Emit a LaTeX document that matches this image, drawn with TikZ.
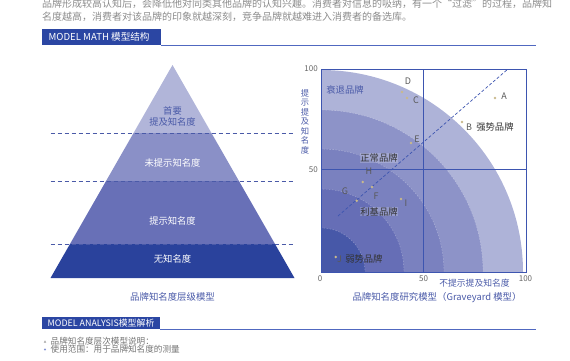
\documentclass[tikz,border=0pt]{standalone}
\usepackage{fontspec}
\setmainfont{Noto Sans CJK SC}
\usetikzlibrary{positioning}
\definecolor{navy}{HTML}{2B46A3}
\definecolor{rule}{HTML}{5068C0}
\definecolor{layerA}{HTML}{B1B5D9}
\definecolor{layerB}{HTML}{8A90C7}
\definecolor{layerC}{HTML}{6870B7}
\definecolor{layerD}{HTML}{2A429C}
\definecolor{ringA}{HTML}{AEB3D8}
\definecolor{ringB}{HTML}{8D93C8}
\definecolor{ringC}{HTML}{7A81BF}
\definecolor{ringD}{HTML}{666EB6}
\definecolor{ringE}{HTML}{4758A8}
\definecolor{axisblue}{HTML}{3D55B0}
\definecolor{capblue}{HTML}{4A5AA8}
\definecolor{dotbrown}{HTML}{C9B98C}
\definecolor{bodygray}{HTML}{8C8C8C}
\tikzset{
    para/.style={anchor=west, inner sep=0pt, text=bodygray, font=\fontsize{10}{12}\selectfont},
    hdtext/.style={anchor=west, inner sep=0pt, text=white, font=\fontsize{9.6}{11}\selectfont},
    caption/.style={inner sep=0pt, text=capblue, font=\fontsize{9.4}{11}\selectfont},
    tick/.style={inner sep=0pt, text=black!60, font=\fontsize{8}{9}\selectfont},
    brandlbl/.style={inner sep=0pt, text=black!80, font=\fontsize{9.3}{11}\selectfont},
    ptlbl/.style={inner sep=0pt, text=black!65, font=\fontsize{9}{10}\selectfont},
    ptdot/.style={circle, fill=dotbrown, inner sep=0pt, minimum size=2.8pt},
}
\begin{document}
\begin{tikzpicture}[x=1pt, y=-1pt]
    \useasboundingbox (0,0) rectangle (570,360);

    % Intro text
    \node[para] (intro1) at (42,3.5) {品牌形成较高认知后，会降低他对同类其他品牌的认知兴趣。消费者对信息的吸纳，有一个“过滤”的过程，品牌知};
    \node[para] (intro2) at (42,16.5) {名度越高，消费者对该品牌的印象就越深刻，竞争品牌就越难进入消费者的备选库。};

    % Header: model math
    \fill[navy] (42,29) rectangle (161,45);
    \draw[rule, line width=1pt] (161,45) -- (536,45);
    \node[hdtext] (hdmath) at (48.5,37) {MODEL MATH 模型结构};

    % Draw Pyramid
    \coordinate (apex) at (172.5,65);
    \coordinate (baseL) at (50.5,278);
    \coordinate (baseR) at (294.5,278);
    \begin{scope}
        \clip (apex) -- (baseL) -- (baseR) -- cycle;
        \fill[layerA] (40,60) rectangle (300,133);
        \fill[layerB] (40,133) rectangle (300,181);
        \fill[layerC] (40,181) rectangle (300,244);
        \fill[layerD] (40,244) rectangle (300,279);
    \end{scope}
    \foreach \y in {133,181,244}
        \draw[capblue, line width=0.7pt, dash pattern=on 4pt off 3pt] (50.5,\y) -- (294.5,\y);
    \node[inner sep=0pt, text=capblue, align=center, font=\fontsize{9.3}{11.5}\selectfont] (top) at (172.5,116.5) {首要\\提及知名度};
    \node[inner sep=0pt, text=white, font=\fontsize{9.3}{11}\selectfont] (unaided) at (172.5,163) {未提示知名度};
    \node[inner sep=0pt, text=white, font=\fontsize{9.3}{11}\selectfont] (aided) at (172.5,221) {提示知名度};
    \node[inner sep=0pt, text=white, font=\fontsize{9.3}{11}\selectfont] (none) at (172.5,259) {无知名度};
    \node[caption] (capPyr) at (172.5,297) {品牌知名度层级模型};

    % Draw Graveyard chart
    \coordinate (O) at (321,272);
    \begin{scope}
        \clip (321,69) rectangle (526,272);
        \fill[ringA] (O) circle[radius=202];
        \fill[ringB] (O) circle[radius=162];
        \fill[ringC] (O) circle[radius=123];
        \fill[ringD] (O) circle[radius=83];
        \fill[ringE] (O) circle[radius=44];
        \foreach \r in {162,123,83,44}
            \draw[white, opacity=0.35, line width=0.4pt, dash pattern=on 1.5pt off 1.5pt] (O) circle[radius=\r];
    \end{scope}
    \draw[axisblue, line width=0.9pt] (321,69) rectangle (526,272);
    \draw[axisblue, line width=0.9pt] (423.5,69) -- (423.5,272);
    \draw[axisblue, line width=0.9pt] (321,169.5) -- (526,169.5);
    \coordinate (diag0) at (338,216);
    \coordinate (diag1) at (508,69);
    \draw[axisblue, line width=0.7pt, dash pattern=on 3pt off 2pt] (diag0) -- (diag1);

    % Ticks and axis titles
    \node[tick, anchor=east] (y100) at (318,69) {100};
    \node[tick, anchor=east] (y50) at (318,169.5) {50};
    \node[tick] (x0) at (320,278.5) {0};
    \node[tick] (x50) at (423.5,278.5) {50};
    \node[tick] (x100) at (525.5,278.5) {100};
    \node[inner sep=0pt, text=capblue, align=center, font=\fontsize{8.3}{9.5}\selectfont] (ytitle) at (305,121.5) {提\\示\\提\\及\\知\\名\\度};
    \node[inner sep=0pt, text=capblue, font=\fontsize{8.8}{10}\selectfont] (xtitle) at (474.5,283.5) {不提示提及知名度};
    \node[caption] (capGrave) at (437,298) {品牌知名度研究模型（Graveyard 模型）};

    % Brand points
    \foreach \n/\x/\y in {A/495/98, B/462/122, C/407/98, D/402/92, E/411/143,
                          H/362.7/182, F/372/187, G/356.7/200.7, I/401/199, J/335.7/257}
        \node[ptdot] (pt\n) at (\x,\y) {};
    \node[ptlbl] (lblA) at (504,96) {A};
    \node[ptlbl] (lblB) at (469,127) {B};
    \node[ptlbl] (lblC) at (416,100) {C};
    \node[ptlbl] (lblD) at (408,81) {D};
    \node[ptlbl] (lblE) at (417,139) {E};
    \node[ptlbl] (lblH) at (369,171) {H};
    \node[ptlbl] (lblF) at (376,196) {F};
    \node[ptlbl] (lblG) at (345,191) {G};
    \node[ptlbl] (lblI) at (406,203) {I};
    \node[ptlbl] (lblJ) at (339.5,259) {J};

    % Brand zones
    \node[brandlbl, text=capblue] (declining) at (345,90) {衰退品牌};
    \node[brandlbl, right=4pt of lblB] (strong) {强势品牌};
    \node[brandlbl, fill=white, fill opacity=0.2, text opacity=1, inner sep=0.5pt] (normal) at (379,158) {正常品牌};
    \node[brandlbl, fill=white, fill opacity=0.2, text opacity=1, inner sep=0.5pt] (niche) at (379,211.5) {利基品牌};
    \node[brandlbl, right=3pt of lblJ] (weak) {弱势品牌};

    % Header: model analysis
    \fill[navy] (42,317) rectangle (160,329);
    \draw[rule, line width=1pt] (160,329) -- (536,329);
    \node[hdtext, font=\fontsize{8.9}{10}\selectfont] (hdanalysis) at (47.5,323) {MODEL ANALYSIS模型解析};

    % Bullets
    \fill[black!40] (43.8,342.6) -- (46.2,342.6) -- (45,340.4) -- cycle;
    \fill[rule!70] (45,349.5) circle[radius=1.2];
    \node[para, text=black!55, font=\fontsize{8.6}{10}\selectfont] (note1) at (50.5,341) {品牌知名度层次模型说明：};
    \node[para, text=black!55, font=\fontsize{8.6}{10}\selectfont] (note2) at (50.5,349.5) {使用范围：用于品牌知名度的测量};
\end{tikzpicture}
\end{document}
